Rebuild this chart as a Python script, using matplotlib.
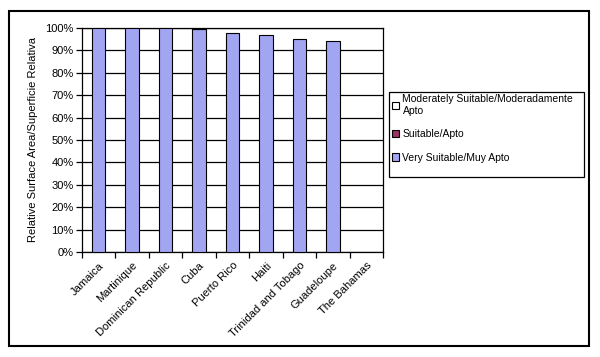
import matplotlib
matplotlib.use("Agg")
import matplotlib.pyplot as plt
from matplotlib.patches import Rectangle, Patch
import numpy as np

plt.rcParams['font.family'] = ['Liberation Sans', 'DejaVu Sans']

countries = ["Jamaica", "Martinique", "Dominican Republic", "Cuba", "Puerto Rico",
             "Haiti", "Trinidad and Tobago", "Guadeloupe", "The Bahamas"]
very_suitable = [100, 100, 100, 99.5, 97.6, 97.0, 95.1, 94.1, 0]
suitable = [0, 0, 0, 0.3, 0, 0, 0, 0, 0]
moderately = [0, 0, 0, 0, 0, 0, 0, 0, 0]
series_labels = ["Moderately Suitable/Moderadamente\nApto", "Suitable/Apto", "Very Suitable/Muy Apto"]
yticks = [0, 10, 20, 30, 40, 50, 60, 70, 80, 90, 100]

c_very = "#A2A6F2"
c_suit = "#993366"
c_mod = "#FFFFFF"

fig = plt.figure(figsize=(6, 3.57), dpi=100)
ax = fig.add_axes([82/600, 1-252/357, (383-82)/600, (252-28)/357])

x = np.arange(len(countries))
w = 0.4
vs = np.array(very_suitable, dtype=float)
su = np.array(suitable, dtype=float)
mo = np.array(moderately, dtype=float)

def draw(vals, bottom, color):
    m = vals > 0
    if m.any():
        ax.bar(x[m], vals[m], w, bottom=bottom[m], color=color, edgecolor="black",
               linewidth=0.8, zorder=3)

draw(vs, np.zeros_like(vs), c_very)
draw(su, vs, c_suit)
draw(mo, vs + su, c_mod)

ax.set_xlim(-0.5, len(countries) - 0.5)
ax.set_ylim(0, 100)
ax.set_yticks(yticks)
ax.set_yticklabels([f"{v}%" for v in yticks], fontsize=8)
ax.yaxis.grid(True, color="black", linewidth=0.9, zorder=0)
ax.set_axisbelow(True)

ax.set_xticks(np.arange(len(countries) + 1) - 0.5, minor=False)
ax.set_xticklabels([])
ax.set_xticks(x, minor=True)
ax.set_xticklabels(countries, minor=True, rotation=45, ha="right", rotation_mode="anchor", fontsize=8)
ax.tick_params(axis="x", which="minor", length=0, pad=6)
ax.tick_params(axis="x", which="major", length=4, direction="out", width=0.9)
ax.tick_params(axis="y", length=4, direction="out", width=0.9, pad=2)

for s in ["top", "right", "left", "bottom"]:
    ax.spines[s].set_visible(True)
    ax.spines[s].set_linewidth(0.9)

ax.set_ylabel("Relative Surface Area/Superficie Relativa", fontsize=8, labelpad=5)

# outer border
fig.patches.append(Rectangle((9/600, 1-346/357), 580/600, 335/357, transform=fig.transFigure,
                             fill=False, edgecolor="black", linewidth=1.5))
# legend frame
fig.patches.append(Rectangle((389/600, 1-177/357), 195/600, 85/357, transform=fig.transFigure,
                             fill=False, edgecolor="black", linewidth=0.9))

handles = [Patch(facecolor=c_mod, edgecolor="black", linewidth=0.8),
           Patch(facecolor=c_suit, edgecolor="black", linewidth=0.8),
           Patch(facecolor=c_very, edgecolor="black", linewidth=0.8)]
fig.legend(handles, series_labels, loc="upper left", bbox_to_anchor=(390/600, 1-92/357),
           frameon=False, fontsize=7.5, handlelength=0.7, handleheight=0.7, handletextpad=0.3,
           labelspacing=1.3, borderpad=0.2, borderaxespad=0)

fig.savefig("out.png", dpi=100)
